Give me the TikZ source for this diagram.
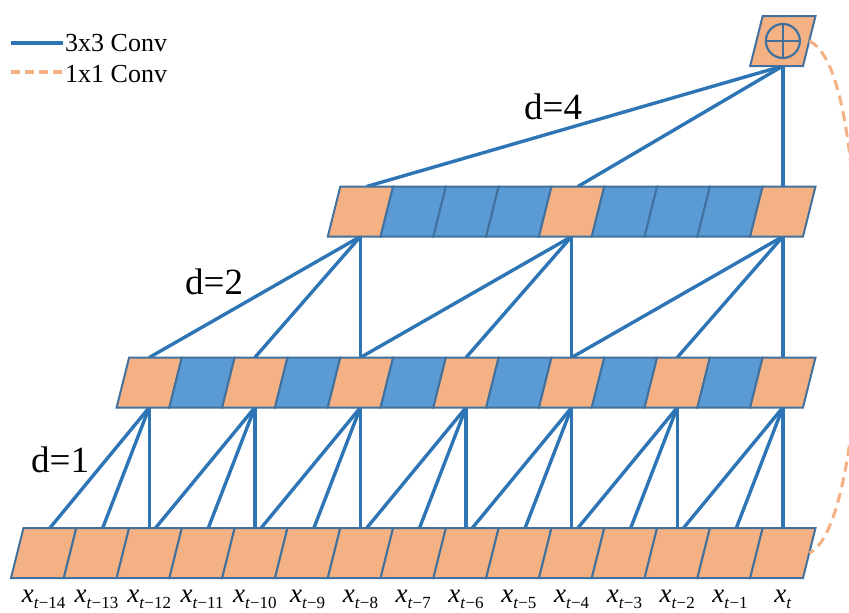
\documentclass[tikz,border=0pt]{standalone}
\usepackage{fontspec}
\setmainfont{Liberation Serif}
\usetikzlibrary{backgrounds}
\definecolor{cOrange}{HTML}{F4B183}
\definecolor{cBlue}{HTML}{5B9BD5}
\definecolor{cEdge}{HTML}{41719C}
\definecolor{cLine}{HTML}{2E75B6}
\newcommand{\xlab}[1]{\textit{x}\raisebox{-6pt}{\fontsize{17}{17}\selectfont\textit{t}#1}}
\newcommand{\pcell}[2]{\filldraw[#2] ([xshift=-6.25pt]#1.south west) -- ([xshift=-6.25pt]#1.south east) -- ([xshift=6.25pt]#1.north east) -- ([xshift=6.25pt]#1.north west) -- cycle;}
\begin{document}
\begin{tikzpicture}[x=1pt,y=-1pt,
 cellbox/.style={rectangle, minimum width=52.8pt, minimum height=50pt, inner sep=0pt, outer sep=0pt},
 ocell/.style={draw=cEdge, line width=2pt, line join=miter, fill=cOrange},
 bcell/.style={draw=cEdge, line width=2pt, line join=miter, fill=cBlue},
 conn/.style={draw=cLine, line width=3.4pt},
 skip/.style={draw=cOrange, line width=3pt, dash pattern=on 10pt off 6pt},
 dlab/.style={font=\fontsize{37}{37}\selectfont, anchor=base west, inner sep=0pt},
 leg/.style={font=\fontsize{26}{26}\selectfont, anchor=base west, inner sep=0pt},
 xl/.style={font=\fontsize{27}{27}\selectfont, anchor=base, inner sep=0pt}]
\useasboundingbox (0,0) rectangle (849,613);

% bottom row
\foreach \i in {1,...,15}{
  \node[cellbox] (b\i) at ({43.65+(\i-1)*52.8},553) {};
  \pcell{b\i}{ocell}
}
% middle row
\foreach \i/\s in {3/ocell,4/bcell,5/ocell,6/bcell,7/ocell,8/bcell,9/ocell,10/bcell,11/ocell,12/bcell,13/ocell,14/bcell,15/ocell}{
  \node[cellbox] (m\i) at ({43.65+(\i-1)*52.8},382.5) {};
  \pcell{m\i}{\s}
}
% top row
\foreach \i/\s in {7/ocell,8/bcell,9/bcell,10/bcell,11/ocell,12/bcell,13/bcell,14/bcell,15/ocell}{
  \node[cellbox] (t\i) at ({43.65+(\i-1)*52.8},211.5) {};
  \pcell{t\i}{\s}
}
% sum node
\node[cellbox] (s) at ({43.65+14*52.8},41) {};
\pcell{s}{ocell}
\node[circle, draw=cEdge, line width=2.2pt, minimum size=34pt, inner sep=0pt] (splus) at (s.center) {};
\draw[draw=cEdge, line width=2.2pt] (splus.west) -- (splus.east) (splus.north) -- (splus.south);

% connectors
\begin{scope}[on background layer]
\foreach \c in {3,5,...,15}{
  \pgfmathtruncatemacro\pa{\c-2}
  \pgfmathtruncatemacro\pb{\c-1}
  \draw[conn] (m\c.south) -- ([xshift=6.25pt]b\pa.north);
  \draw[conn] (m\c.south) -- ([xshift=6.25pt]b\pb.north);
  \draw[conn] (m\c.south) -- (b\c.north);
}
\foreach \c in {7,11,15}{
  \pgfmathtruncatemacro\pa{\c-4}
  \pgfmathtruncatemacro\pb{\c-2}
  \draw[conn] (t\c.south) -- (m\pa.north);
  \draw[conn] (t\c.south) -- (m\pb.north);
  \draw[conn] (t\c.south) -- (m\c.north);
}
\draw[conn] (s.south) -- ([xshift=6.25pt]t7.north);
\draw[conn] (s.south) -- ([xshift=6.25pt]t11.north);
\draw[conn] (s.south) -- (t15.north);
\end{scope}

% skip connection
\begin{scope}
\clip (0,0) rectangle (849,613);
\draw[skip] (s.east) .. controls (840,55) and (856,150) .. (858,300)
  .. controls (860,420) and (840,540) .. (b15.east);
\end{scope}

% labels d=
\node[dlab] (d1) at (31,472) {d=1};
\node[dlab] (d2) at (185,294) {d=2};
\node[dlab] (d4) at (524,119) {d=4};

% legend
\coordinate (la1) at (11,43);
\coordinate (la2) at (63,43);
\draw[conn, line width=3.5pt] (la1) -- (la2);
\node[leg] (lt1) at (65,51) {3x3 Conv};
\coordinate (lb1) at (11,72);
\coordinate (lb2) at (63,72);
\draw[draw=cOrange, line width=3.5pt, dash pattern=on 9pt off 5pt] (lb1) -- (lb2);
\node[leg] (lt2) at (65,82) {1x1 Conv};

% x labels
\foreach \i/\t in {1/{−14},2/{−13},3/{−12},4/{−11},5/{−10},6/{−9},7/{−8},8/{−7},9/{−6},10/{−5},11/{−4},12/{−3},13/{−2},14/{−1}}
  \node[xl] (x\i) at ({43.65+(\i-1)*52.8},602) {\xlab{\t}};
\node[xl] (x15) at ({43.65+14*52.8},602) {\xlab{}};
\end{tikzpicture}
\end{document}
